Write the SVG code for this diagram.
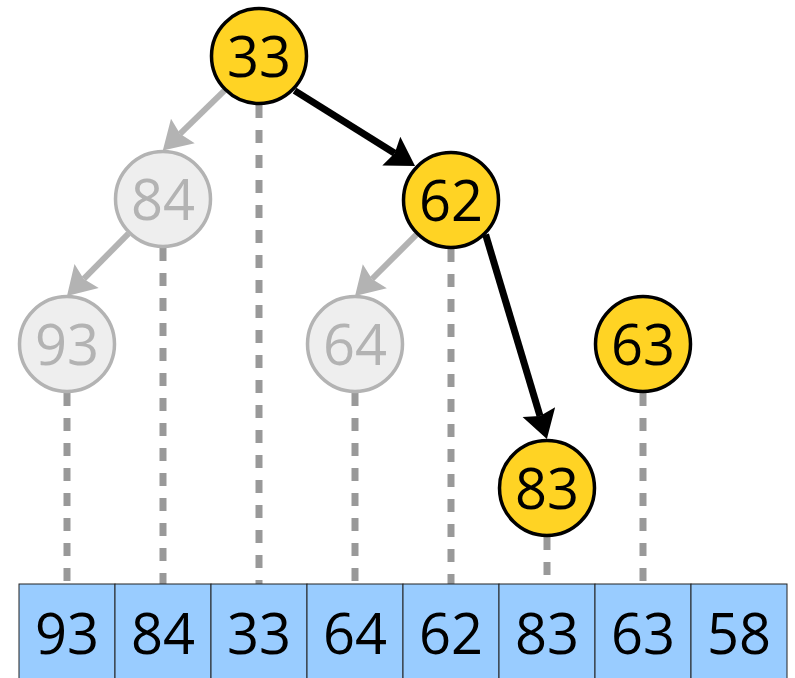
<svg xmlns="http://www.w3.org/2000/svg" width="795" height="678" viewBox="0 0 795 678">
<style>
.t{font-family:"Open Sans",sans-serif;font-size:56px;text-anchor:middle}
.on circle{fill:#FFD324;stroke:#000;stroke-width:3.5}
.on text{fill:#000}
.off circle{fill:#EEEEEE;stroke:#B3B3B3;stroke-width:3.5}
.off text{fill:#B3B3B3}
.dash{stroke:#999;stroke-width:7;stroke-dasharray:13 12;fill:none}
.ba{stroke:#000;stroke-width:7;fill:none;marker-end:url(#hb)}
.ga{stroke:#B3B3B3;stroke-width:6;fill:none;marker-end:url(#hg)}
.cell rect{fill:#99CCFF;stroke:#222;stroke-width:1}
</style>
<defs>
<marker id="hb" markerUnits="userSpaceOnUse" markerWidth="44" markerHeight="44" viewBox="-2 -22 34 44" refX="4" refY="0" orient="auto">
<path d="M0,-17 L28,0 L0,17 L4,0 Z" fill="#000"/>
</marker>
<marker id="hg" markerUnits="userSpaceOnUse" markerWidth="44" markerHeight="44" viewBox="-2 -22 34 44" refX="4" refY="0" orient="auto">
<path d="M0,-17 L28,0 L0,17 L4,0 Z" fill="#B3B3B3"/>
</marker>
</defs>
<g id="connectors">
<line class="dash" x1="67" y1="393" x2="67" y2="584"/>
<line class="dash" x1="163" y1="248" x2="163" y2="584"/>
<line class="dash" x1="259" y1="105" x2="259" y2="584"/>
<line class="dash" x1="355" y1="393" x2="355" y2="584"/>
<line class="dash" x1="451" y1="249" x2="451" y2="584"/>
<line class="dash" x1="547" y1="537" x2="547" y2="584"/>
<line class="dash" x1="643" y1="393" x2="643" y2="584"/>
<line class="ga" x1="224.4" y1="90.6" x2="180" y2="133.8"/>
<line class="ga" x1="128.4" y1="233.6" x2="83.8" y2="278.9"/>
<line class="ga" x1="416.4" y1="234.6" x2="372" y2="279"/>
<line class="ba" x1="294.6" y1="90.6" x2="394.7" y2="153.2"/>
<line class="ba" x1="485.6" y1="234.6" x2="540" y2="416"/>
</g>
<g id="array" class="cell">
<rect x="19" y="584" width="96" height="96"/>
<rect x="115" y="584" width="96" height="96"/>
<rect x="211" y="584" width="96" height="96"/>
<rect x="307" y="584" width="96" height="96"/>
<rect x="403" y="584" width="96" height="96"/>
<rect x="499" y="584" width="96" height="96"/>
<rect x="595" y="584" width="96" height="96"/>
<rect x="691" y="584" width="96" height="96"/>
<text class="t" x="67" y="654">93</text>
<text class="t" x="163" y="654">84</text>
<text class="t" x="259" y="654">33</text>
<text class="t" x="355" y="654">64</text>
<text class="t" x="451" y="654">62</text>
<text class="t" x="547" y="654">83</text>
<text class="t" x="643" y="654">63</text>
<text class="t" x="739" y="654">58</text>
</g>
<g id="n33" class="on"><circle cx="259" cy="56" r="47.5"/><text class="t" x="259" y="77">33</text></g>
<g id="n84" class="off"><circle cx="163" cy="199" r="47.5"/><text class="t" x="163" y="220">84</text></g>
<g id="n62" class="on"><circle cx="451" cy="200" r="47.5"/><text class="t" x="451" y="221">62</text></g>
<g id="n93" class="off"><circle cx="67" cy="344" r="47.5"/><text class="t" x="67" y="365">93</text></g>
<g id="n64" class="off"><circle cx="355" cy="344" r="47.5"/><text class="t" x="355" y="365">64</text></g>
<g id="n63" class="on"><circle cx="643" cy="344" r="47.5"/><text class="t" x="643" y="365">63</text></g>
<g id="n83" class="on"><circle cx="547" cy="488" r="47.5"/><text class="t" x="547" y="509">83</text></g>
</svg>
